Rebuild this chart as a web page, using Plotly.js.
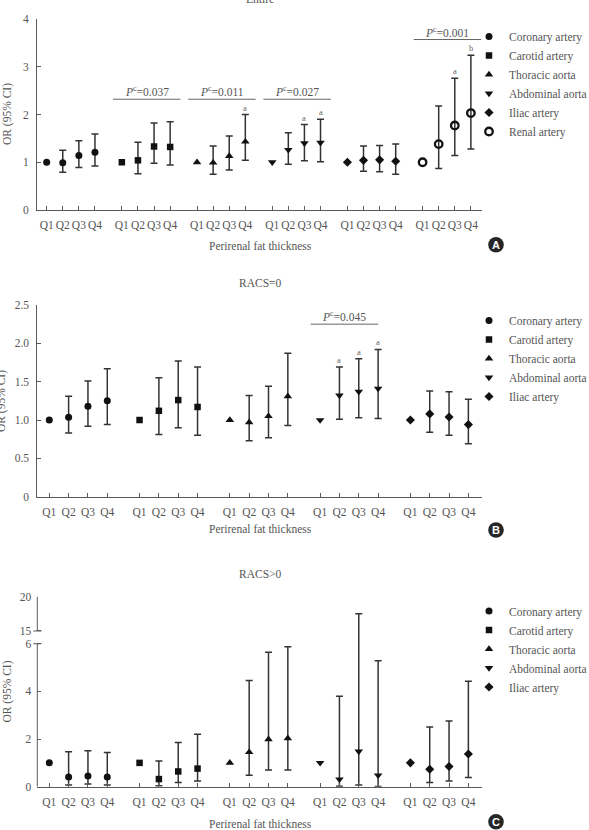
<!DOCTYPE html>
<html>
<head>
<meta charset="utf-8">
<script src="https://cdn.plot.ly/plotly-3.0.1.min.js"></script>
<style>
  html, body { margin: 0; padding: 0; background: #fff; overflow: hidden; }
  #chart { width: 589px; height: 830px; }
</style>
</head>
<body>
<div id="chart"></div>
<script>
// ---------- data ----------
const quartiles = ['Q1', 'Q2', 'Q3', 'Q4'];
const arteriesAll = ['Coronary artery', 'Carotid artery', 'Thoracic aorta', 'Abdominal aorta', 'Iliac artery', 'Renal artery'];
const arteriesSub = ['Coronary artery', 'Carotid artery', 'Thoracic aorta', 'Abdominal aorta', 'Iliac artery'];

// Entire cohort: odds ratio with 95% CI by perirenal fat thickness quartile (Q1 = reference)
const entireOR = [
  [1.00, 0.99, 1.14, 1.21],
  [1.00, 1.04, 1.33, 1.32],
  [1.00, 0.99, 1.13, 1.43],
  [1.00, 1.26, 1.40, 1.41],
  [1.00, 1.04, 1.05, 1.02],
  [1.00, 1.38, 1.77, 2.03]
];
const entireLower = [
  [null, 0.79, 0.89, 0.92],
  [null, 0.76, 0.98, 0.94],
  [null, 0.75, 0.84, 1.04],
  [null, 0.96, 1.03, 1.01],
  [null, 0.81, 0.80, 0.75],
  [null, 0.87, 1.14, 1.28]
];
const entireUpper = [
  [null, 1.25, 1.45, 1.59],
  [null, 1.42, 1.82, 1.85],
  [null, 1.34, 1.55, 2.00],
  [null, 1.62, 1.79, 1.90],
  [null, 1.34, 1.35, 1.38],
  [null, 2.18, 2.76, 3.24]
];
const entireSig = [
  ['', '', '', ''],
  ['', '', '', ''],
  ['', '', '', 'a'],
  ['', '', 'a', 'a'],
  ['', '', '', ''],
  ['', '', 'a', 'b']
];
const entirePTrend = [null, '0.037', '0.011', '0.027', null, '0.001'];

// RACS = 0
const racs0OR = [
  [1.00, 1.035, 1.18, 1.25],
  [1.00, 1.12, 1.26, 1.17],
  [1.00, 0.97, 1.05, 1.31],
  [1.00, 1.32, 1.37, 1.41],
  [1.00, 1.08, 1.04, 0.94]
];
const racs0Lower = [
  [null, 0.83, 0.92, 0.94],
  [null, 0.81, 0.90, 0.80],
  [null, 0.73, 0.77, 0.93],
  [null, 1.01, 1.03, 1.02],
  [null, 0.84, 0.80, 0.69]
];
const racs0Upper = [
  [null, 1.31, 1.51, 1.67],
  [null, 1.55, 1.77, 1.69],
  [null, 1.32, 1.44, 1.87],
  [null, 1.69, 1.80, 1.92],
  [null, 1.38, 1.37, 1.27]
];
const racs0Sig = [
  ['', '', '', ''],
  ['', '', '', ''],
  ['', '', '', ''],
  ['', 'a', 'a', 'a'],
  ['', '', '', '']
];
const racs0PTrend = [null, null, null, '0.045', null];

// RACS > 0
const racsPosOR = [
  [1.00, 0.41, 0.45, 0.41],
  [1.00, 0.32, 0.64, 0.76],
  [1.00, 1.45, 1.99, 2.03],
  [1.00, 0.31, 1.48, 0.48],
  [1.00, 0.73, 0.85, 1.37]
];
const racsPosLower = [
  [null, 0.07, 0.11, 0.07],
  [null, 0.04, 0.18, 0.24],
  [null, 0.48, 0.70, 0.70],
  [null, 0.02, 0.07, 0.01],
  [null, 0.18, 0.24, 0.39]
];
const racsPosUpper = [
  [null, 1.47, 1.51, 1.43],
  [null, 1.08, 1.86, 2.20],
  [null, 4.46, 5.64, 5.87],
  [null, 3.80, 17.5, 5.29],
  [null, 2.50, 2.76, 4.43]
];

// ---------- styling ----------
const W = 589, H = 830;
const FONT = 'Liberation Serif, "Times New Roman", serif';
const TXT = '#555555';
const AXC = '#5a5a5a';
const ERRC = '#333333';
const GROUP_STEP = 4.67;

const symbols = [
  {symbol: 'circle', size: 7},
  {symbol: 'square', size: 6.5},
  {symbol: 'triangle-up', size: 7.5},
  {symbol: 'triangle-down', size: 7.5},
  {symbol: 'diamond', size: 7},
  {symbol: 'circle-open', size: 7.5, line: {width: 2.3, color: '#111'}}
];

const px = v => v / W;
const py = v => 1 - v / H;

// broken y axis for RACS>0: 0-6 linear, then 15-20 compressed
const BREAK_LOW = 6, BREAK_HIGH = 15, BREAK_GAP = 0.534, UPPER_SCALE = 0.2878;
const brk = v => v <= BREAK_LOW ? v : BREAK_LOW + BREAK_GAP + (v - BREAK_HIGH) * UPPER_SCALE;

const xPos = g => quartiles.map((q, i) => g * GROUP_STEP + i);

function allTickVals(nGroups) {
  const v = [];
  for (let g = 0; g < nGroups; g++) v.push(...xPos(g));
  return v;
}
function allTickText(nGroups) {
  const t = [];
  for (let g = 0; g < nGroups; g++) t.push(...quartiles);
  return t;
}

const traces = [];
const annotations = [];
const shapes = [];

function addPanel(opts) {
  const {names, OR, lo, hi, sig, xa, ya, legend, tf} = opts;
  const f = tf || (v => v);
  names.forEach((name, g) => {
    const ys = OR[g].map(f);
    const plus = hi[g].map((h, i) => h == null ? NaN : f(h) - ys[i]);
    const minus = lo[g].map((l, i) => l == null ? NaN : ys[i] - f(l));
    const sym = symbols[g];
    traces.push({
      type: 'scatter', mode: 'markers',
      x: xPos(g), y: ys,
      xaxis: xa, yaxis: ya,
      name: name, legend: legend,
      marker: Object.assign({color: '#111'}, sym.line ? {line: sym.line} : {line: {width: 0}}, {symbol: sym.symbol, size: sym.size}),
      error_y: {type: 'data', symmetric: false, array: plus, arrayminus: minus,
                color: ERRC, thickness: 1.5, width: 3.5},
      cliponaxis: false,
      hoverinfo: 'skip'
    });
    if (sig) {
      sig[g].forEach((s, i) => {
        if (!s) return;
        annotations.push({
          xref: xa, yref: ya, x: xPos(g)[i], y: f(hi[g][i]),
          text: s, showarrow: false, xanchor: 'center', yanchor: 'bottom', yshift: 0,
          font: {family: FONT, size: 8.5, color: '#666'}
        });
      });
    }
  });
}

function addTrend(pvals, yLines, xa, ya, leftPad, rightPad) {
  pvals.forEach((p, g) => {
    if (!p) return;
    const x0 = g * GROUP_STEP - leftPad, x1 = g * GROUP_STEP + 3 + rightPad;
    shapes.push({type: 'line', xref: xa, yref: ya, x0: x0, x1: x1, y0: yLines[g], y1: yLines[g],
                 line: {color: '#666', width: 1}});
    annotations.push({xref: xa, yref: ya, x: (x0 + x1) / 2, y: yLines[g],
      text: '<i>P</i><sup>c</sup>=' + p, showarrow: false, xanchor: 'center', yanchor: 'bottom', yshift: -1,
      font: {family: FONT, size: 11.5, color: TXT}});
  });
}

addPanel({names: arteriesAll, OR: entireOR, lo: entireLower, hi: entireUpper, sig: entireSig,
          xa: 'x', ya: 'y', legend: 'legend'});
addPanel({names: arteriesSub, OR: racs0OR, lo: racs0Lower, hi: racs0Upper, sig: racs0Sig,
          xa: 'x2', ya: 'y2', legend: 'legend2'});
addPanel({names: arteriesSub, OR: racsPosOR, lo: racsPosLower, hi: racsPosUpper, sig: null,
          xa: 'x3', ya: 'y3', legend: 'legend3', tf: brk});

addTrend(entirePTrend, [null, 2.32, 2.32, 2.32, null, 3.57], 'x', 'y', 0.55, 0.64);
addTrend(racs0PTrend, [null, null, null, 2.25, null], 'x2', 'y2', 0.49, 0.0);

// text labels: panel titles, axis titles
function label(text, xp, yp, opts) {
  annotations.push(Object.assign({xref: 'paper', yref: 'paper', x: px(xp), y: py(yp), text: text,
    xanchor: 'center', yanchor: 'middle',
    showarrow: false, font: {family: FONT, size: 11.5, color: TXT}}, opts || {}));
}
label('Entire', 260, 7, {yanchor: 'bottom'});
label('RACS=0', 260, 283.5);
label('RACS>0', 260, 573.5);
label('Perirenal fat thickness', 260, 246);
label('Perirenal fat thickness', 260, 528.5);
label('Perirenal fat thickness', 260, 823.5);
label('OR (95% CI)', 7.5, 114.5, {textangle: -90});
label('OR (95% CI)', 2, 401, {textangle: -90});
label('OR (95% CI)', 7, 691.5, {textangle: -90});

// panel badges
[['A', 244.7], ['B', 530], ['C', 821.7]].forEach(([t, cy]) => {
  shapes.push({type: 'circle', xref: 'paper', yref: 'paper',
    x0: px(496 - 7.8), x1: px(496 + 7.8), y0: py(cy + 7.8), y1: py(cy - 7.8),
    fillcolor: '#262626', line: {width: 0}});
  annotations.push({xref: 'paper', yref: 'paper', x: px(496), y: py(cy), text: '<b>' + t + '</b>',
    xanchor: 'center', yanchor: 'middle',
    showarrow: false, font: {family: 'Liberation Sans, Arial, sans-serif', size: 11, color: '#fff'}});
});

// broken axis line for RACS>0
const yAxisX = px(37.3);
shapes.push({type: 'line', xref: 'paper', yref: 'y3', x0: yAxisX, x1: yAxisX, y0: 0, y1: BREAK_LOW,
             line: {color: AXC, width: 1}});
shapes.push({type: 'line', xref: 'paper', yref: 'y3', x0: yAxisX, x1: yAxisX, y0: brk(BREAK_HIGH), y1: brk(20),
             line: {color: AXC, width: 1}});
[BREAK_LOW, brk(BREAK_HIGH)].forEach(v => {
  shapes.push({type: 'line', xref: 'paper', yref: 'y3', x0: px(33.3), x1: px(41.5), y0: v, y1: v,
               line: {color: AXC, width: 1}});
});

const tickFont = {family: FONT, size: 11.5, color: TXT};
function xAxis(domain, range, nGroups, anchor) {
  return {domain: domain, range: range, anchor: anchor,
    tickmode: 'array', tickvals: allTickVals(nGroups), ticktext: allTickText(nGroups),
    tickangle: 0, ticklabelstandoff: 4,
    ticks: 'inside', ticklen: 4, tickcolor: AXC, tickwidth: 1,
    showline: true, linecolor: AXC, linewidth: 1,
    showgrid: false, zeroline: false, tickfont: tickFont, fixedrange: true};
}
function yAxis(domain, range, tickvals, ticktext, anchor, showline) {
  return {domain: domain, range: range, anchor: anchor,
    tickmode: 'array', tickvals: tickvals, ticktext: ticktext,
    ticklabelstandoff: 5,
    ticks: 'inside', ticklen: 4, tickcolor: AXC, tickwidth: 1,
    showline: showline, linecolor: AXC, linewidth: 1,
    showgrid: false, zeroline: false, tickfont: tickFont, fixedrange: true};
}

function legendAt(topPx) {
  return {x: px(469), y: py(topPx), xanchor: 'left', yanchor: 'top',
    bgcolor: 'rgba(0,0,0,0)', borderwidth: 0,
    font: {family: FONT, size: 11.5, color: TXT}, itemclick: false, itemdoubleclick: false};
}

const layout = {
  width: W, height: H,
  margin: {l: 0, r: 0, t: 0, b: 0, autoexpand: false},
  paper_bgcolor: '#fff', plot_bgcolor: '#fff',
  showlegend: true,
  xaxis: xAxis([px(37), px(482)], [-0.60, 27.04], 6, 'y'),
  yaxis: yAxis([py(210), py(19)], [0, 4], [0, 1, 2, 3, 4], ['0', '1', '2', '3', '4'], 'x', true),
  xaxis2: xAxis([px(37.3), px(482.3)], [-0.62, 22.4], 5, 'y2'),
  yaxis2: yAxis([py(496.7), py(305)], [0, 2.5], [0, 0.5, 1, 1.5, 2, 2.5], ['0', '0.5', '1.0', '1.5', '2.0', '2.5'], 'x2', true),
  xaxis3: xAxis([px(37.3), px(482.3)], [-0.62, 22.4], 5, 'y3'),
  yaxis3: yAxis([py(786.7), py(596.7)], [0, brk(20)], [0, 2, 4, 6, brk(15), brk(20)], ['0', '2', '4', '6', '15', '20'], 'x3', false),
  legend: legendAt(22),
  legend2: legendAt(306),
  legend3: legendAt(596.5),
  annotations: annotations,
  shapes: shapes
};

Plotly.newPlot('chart', traces, layout, {staticPlot: true, displayModeBar: false});
</script>
</body>
</html>
